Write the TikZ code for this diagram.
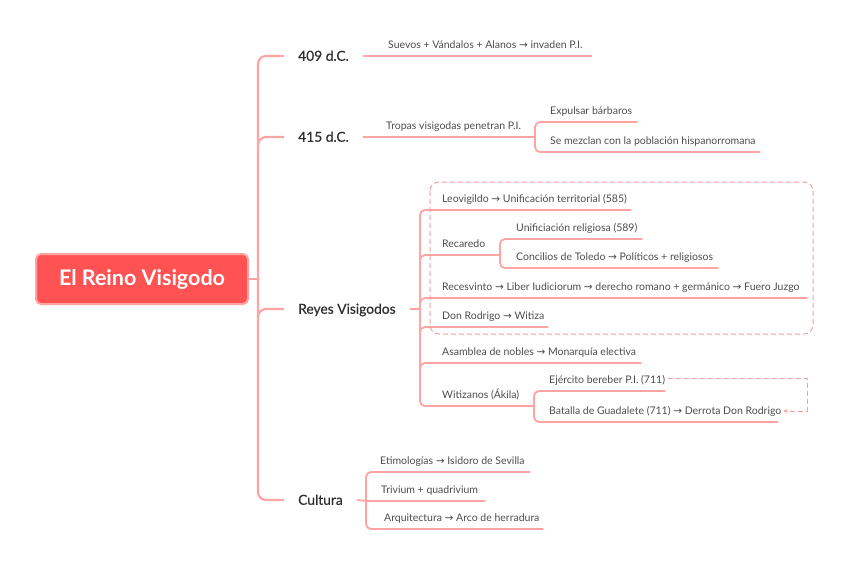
\documentclass[tikz,border=0pt]{standalone}
\usepackage{fontspec}
\setmainfont{Lato}
\newfontfamily\arrowfont{DejaVu Sans}
\newfontfamily\medfont[FakeBold=0.3]{Lato}
\usetikzlibrary{calc,arrows.meta}
\definecolor{linec}{HTML}{FFA3A3}
\definecolor{rootfill}{HTML}{FF5252}
\definecolor{leaftext}{HTML}{4D4D4D}
\definecolor{maintext}{HTML}{2E2E2E}
\definecolor{dashc}{HTML}{F4A0A0}
\newcommand\ra{{\arrowfont →}}
\newcommand\leafbox[3]{\makebox[#1pt][l]{\hspace{#2pt}#3}}
\tikzset{
  leaf/.style={anchor=south west, inner xsep=0pt, inner ysep=4.5pt, text height=8pt, text depth=2.5pt, font=\fontsize{10.5}{12}\selectfont, text=leaftext},
  mainlabel/.style={anchor=west, inner xsep=14pt, inner ysep=3pt, text height=9.5pt, text depth=0pt, font=\medfont\fontsize{13.8}{15}\selectfont, text=maintext},
  br/.style={draw=linec, line width=1.8pt, rounded corners=5pt},
  trunk/.style={draw=linec, line width=2.2pt, rounded corners=8pt},
  rootbox/.style={draw=linec, line width=2pt, fill=rootfill, rounded corners=5pt, minimum width=212pt, minimum height=50pt, text=white, font=\bfseries\fontsize{21.5}{24}\selectfont},
  dashbox/.style={draw=dashc, line width=1pt, dash pattern=on 5pt off 3pt, rounded corners=9pt},
  dashrel/.style={draw=dashc, line width=1pt, dash pattern=on 5pt off 3pt, -{Stealth[length=4pt,width=4pt]}}
}
\begin{document}
\begin{tikzpicture}[x=1pt,y=-1pt]
\useasboundingbox (0,0) rectangle (848,566);
% root
\node[rootbox] (root) at (142,279) {El Reino Visigodo};
\coordinate (tr) at (258,279);
% main labels
\node[mainlabel] (m409) at (284,56) {409 d.C.};
\node[mainlabel] (m415) at (284,137) {415 d.C.};
\node[mainlabel] (mrey) at (284,309) {Reyes Visigodos};
\node[mainlabel] (mcul) at (284,500) {Cultura};
% trunk
\draw[trunk] (m409.west) -| (tr) |- (mcul.west);
\draw[trunk] (root.east) -- (tr);
\draw[trunk] ($(tr |- m415.west)+(0,8)$) -- (tr |- m415.west) -- (m415.west);
\draw[trunk] ($(tr |- mrey.west)+(0,8)$) -- (tr |- mrey.west) -- (mrey.west);
% 409
\node[leaf] (s409) at (363,56) {\leafbox{229}{25}{Suevos + Vándalos + Alanos \ra{} invaden P.I.}};
\draw[br] (m409.east) -- (s409.south west) -- (s409.south east);
% 415
\node[leaf] (t415) at (360,137) {\leafbox{175}{26}{Tropas visigodas penetran P.I.}};
\node[leaf] (exp) at (535,122) {\leafbox{102}{15}{Expulsar bárbaros}};
\node[leaf] (mez) at (535,152) {\leafbox{225}{15}{Se mezclan con la población hispanorromana}};
\draw[br] (m415.east) -- (t415.south west) -- (t415.south east);
\draw[br] (exp.south east) -- (exp.south west) -- (mez.south west) -- (mez.south east);
% Reyes
\node[leaf] (leo) at (420,210) {\leafbox{211}{22}{Leovigildo \ra{} Unificación territorial (585)}};
\node[leaf] (rec) at (420,255) {\leafbox{80}{22}{Recaredo}};
\node[leaf] (uni) at (500,239) {\leafbox{142}{16}{Unificiación religiosa (589)}};
\node[leaf] (con) at (500,268) {\leafbox{218}{16}{Concilios de Toledo \ra{} Políticos + religiosos}};
\node[leaf] (res) at (420,298) {\leafbox{387}{22}{Recesvinto \ra{} Liber Iudiciorum \ra{} derecho romano + germánico \ra{} Fuero Juzgo}};
\node[leaf] (don) at (420,327) {\leafbox{128}{22}{Don Rodrigo \ra{} Witiza}};
\node[leaf] (asa) at (420,363) {\leafbox{221}{22}{Asamblea de nobles \ra{} Monarquía electiva}};
\node[leaf] (wit) at (420,406) {\leafbox{114}{22}{Witizanos (Ákila)}};
\node[leaf] (ej) at (534,391) {\leafbox{131}{15}{Ejército bereber P.I. (711)}};
\node[leaf] (bat) at (534,422) {\leafbox{244}{15}{Batalla de Guadalete (711) \ra{} Derrota Don Rodrigo}};
\draw[br] (mrey.east) -- (mrey.east -| leo.south west);
\draw[br] (leo.south east) -- (leo.south west) -- (wit.south west) -- (wit.south east);
\draw[br] ($(rec.south west)+(0,8)$) -- (rec.south west) -- (rec.south east);
\draw[br] ($(res.south west)+(0,8)$) -- (res.south west) -- (res.south east);
\draw[br] ($(don.south west)+(0,8)$) -- (don.south west) -- (don.south east);
\draw[br] ($(asa.south west)+(0,8)$) -- (asa.south west) -- (asa.south east);
\draw[br] (uni.south east) -- (uni.south west) -- (con.south west) -- (con.south east);
\draw[br] (ej.south east) -- (ej.south west) -- (bat.south west) -- (bat.south east);
% boundary
\draw[dashbox] (430,182) rectangle (813,334);
% relation
\coordinate (dr) at (807,395);
\draw[dashrel] ($(ej.south east)+(3,-13)$) -| (dr) |- ($(bat.south east)+(5,-11)$);
% Cultura
\node[leaf] (eti) at (366,472) {\leafbox{164}{14}{Etimologías \ra{} Isidoro de Sevilla}};
\node[leaf] (tri) at (366,501) {\leafbox{119}{15}{Trivium + quadrivium}};
\node[leaf] (arq) at (366,529) {\leafbox{177}{18}{Arquitectura \ra{} Arco de herradura}};
\draw[br] (mcul.east) -- (tri.south west) -- (tri.south east);
\draw[br] (eti.south east) -- (eti.south west) -- (arq.south west) -- (arq.south east);
\end{tikzpicture}
\end{document}
